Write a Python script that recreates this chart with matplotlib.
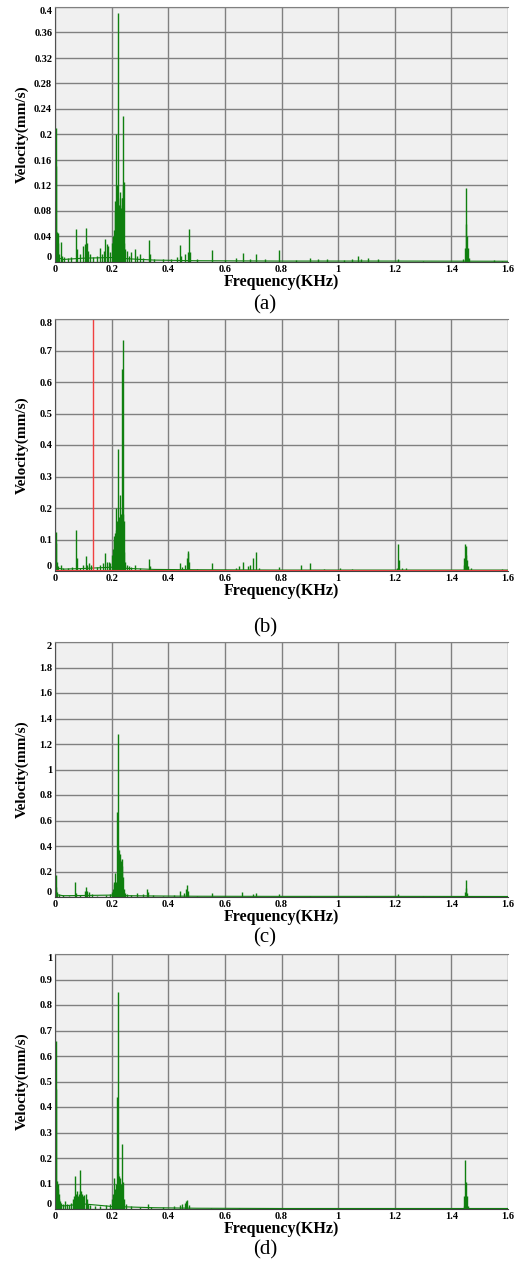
import matplotlib
matplotlib.use("Agg")
import matplotlib.pyplot as plt
import numpy as np

# ---- data ----
freq_ticks = [0, 0.2, 0.4, 0.6, 0.8, 1, 1.2, 1.4, 1.6]

# panel (a)
f_a = [0.003, 0.005, 0.007, 0.009, 0.012, 0.015, 0.020, 0.024, 0.032, 0.045, 0.058, 0.074, 0.077,
       0.090, 0.100, 0.106, 0.110, 0.113, 0.118, 0.125, 0.135, 0.150, 0.159, 0.165, 0.172, 0.178,
       0.183, 0.188, 0.195, 0.200, 0.204, 0.206, 0.209, 0.211, 0.213, 0.215, 0.217, 0.219, 0.221,
       0.223, 0.225, 0.227, 0.229, 0.231, 0.233, 0.235, 0.237, 0.239, 0.241, 0.243, 0.245, 0.248,
       0.255, 0.262, 0.270, 0.283, 0.290, 0.300, 0.310, 0.333, 0.336, 0.350, 0.380, 0.410, 0.430,
       0.442, 0.446, 0.460, 0.468, 0.473, 0.476, 0.500, 0.554, 0.600, 0.640, 0.663, 0.690, 0.710,
       0.740, 0.792, 0.850, 0.900, 0.930, 0.960, 1.020, 1.050, 1.070, 1.080, 1.104, 1.142, 1.213,
       1.300, 1.440, 1.448, 1.450, 1.452, 1.454, 1.457, 1.462, 1.550, 1.580]
v_a = [0.21, 0.15, 0.047, 0.045, 0.03, 0.012, 0.031, 0.010, 0.008, 0.006, 0.008, 0.051, 0.02,
       0.012, 0.025, 0.028, 0.053, 0.03, 0.018, 0.012, 0.008, 0.01, 0.022, 0.012, 0.018, 0.036,
       0.028, 0.025, 0.015, 0.03, 0.04, 0.03, 0.05, 0.095, 0.08, 0.2, 0.09, 0.12, 0.10,
       0.39, 0.09, 0.085, 0.11, 0.09, 0.085, 0.10, 0.10, 0.12, 0.229, 0.125, 0.03, 0.02,
       0.018, 0.01, 0.015, 0.02, 0.01, 0.012, 0.006, 0.035, 0.012, 0.005, 0.004, 0.004, 0.008,
       0.027, 0.01, 0.012, 0.015, 0.051, 0.015, 0.004, 0.019, 0.003, 0.006, 0.014, 0.005, 0.012,
       0.004, 0.019, 0.003, 0.007, 0.004, 0.005, 0.003, 0.005, 0.01, 0.004, 0.006, 0.004, 0.004,
       0.002, 0.004, 0.022, 0.059, 0.116, 0.04, 0.022, 0.006, 0.003, 0.002]
floor_f_a = [0, 0.03, 0.1, 0.2, 0.26, 0.35, 0.5, 0.8, 1.2, 1.6]
floor_v_a = [0.008, 0.004, 0.006, 0.007, 0.005, 0.003, 0.002, 0.0015, 0.0015, 0.0012]

# panel (b)
f_b = [0.003, 0.005, 0.007, 0.012, 0.020, 0.030, 0.045, 0.060, 0.074, 0.077, 0.090, 0.100, 0.109,
       0.114, 0.120, 0.126, 0.150, 0.160, 0.170, 0.178, 0.183, 0.190, 0.196, 0.202, 0.205, 0.207,
       0.209, 0.211, 0.213, 0.215, 0.217, 0.219, 0.221, 0.223, 0.225, 0.227, 0.229, 0.231, 0.233,
       0.235, 0.237, 0.239, 0.241, 0.243, 0.245, 0.248, 0.255, 0.262, 0.270, 0.283, 0.300, 0.333,
       0.336, 0.380, 0.420, 0.442, 0.448, 0.460, 0.465, 0.468, 0.471, 0.474, 0.500, 0.554, 0.600,
       0.640, 0.650, 0.663, 0.680, 0.690, 0.700, 0.709, 0.720, 0.790, 0.868, 0.900, 0.950, 1.007,
       1.050, 1.100, 1.150, 1.207, 1.213, 1.216, 1.225, 1.240, 1.300, 1.400, 1.443, 1.446, 1.449,
       1.451, 1.453, 1.456, 1.460, 1.470, 1.550, 1.580]
v_b = [0.125, 0.09, 0.03, 0.015, 0.02, 0.008, 0.01, 0.012, 0.13, 0.04, 0.01, 0.02, 0.047,
       0.02, 0.025, 0.018, 0.012, 0.02, 0.025, 0.057, 0.03, 0.03, 0.025, 0.05, 0.07, 0.10,
       0.11, 0.09, 0.12, 0.13, 0.20, 0.16, 0.14, 0.387, 0.15, 0.17, 0.24, 0.16, 0.18,
       0.17, 0.64, 0.732, 0.18, 0.16, 0.06, 0.03, 0.02, 0.015, 0.012, 0.02, 0.01, 0.038,
       0.015, 0.005, 0.005, 0.025, 0.012, 0.02, 0.04, 0.062, 0.057, 0.03, 0.006, 0.025, 0.005,
       0.008, 0.015, 0.027, 0.015, 0.02, 0.042, 0.06, 0.008, 0.013, 0.02, 0.025, 0.005, 0.01,
       0.005, 0.004, 0.004, 0.01, 0.087, 0.035, 0.01, 0.008, 0.004, 0.004, 0.02, 0.04, 0.087,
       0.08, 0.05, 0.035, 0.015, 0.008, 0.004, 0.006]
floor_f_b = [0, 0.03, 0.1, 0.2, 0.26, 0.35, 0.5, 0.8, 1.2, 1.6]
floor_v_b = [0.01, 0.006, 0.008, 0.012, 0.008, 0.005, 0.004, 0.003, 0.003, 0.003]
marker_f_b = 0.134      # red cursor line
marker_v_b = 0.003      # red reference level

# panel (c)
f_c = [0.003, 0.005, 0.008, 0.015, 0.030, 0.050, 0.071, 0.074, 0.090, 0.105, 0.110, 0.114, 0.120,
       0.130, 0.150, 0.180, 0.195, 0.200, 0.204, 0.207, 0.210, 0.213, 0.215, 0.218, 0.221, 0.223,
       0.225, 0.227, 0.229, 0.231, 0.233, 0.235, 0.237, 0.239, 0.242, 0.246, 0.255, 0.270, 0.290,
       0.310, 0.324, 0.330, 0.345, 0.380, 0.420, 0.443, 0.455, 0.463, 0.467, 0.470, 0.500, 0.554,
       0.600, 0.660, 0.700, 0.710, 0.790, 0.900, 1.000, 1.100, 1.200, 1.213, 1.300, 1.447, 1.450,
       1.452, 1.456, 1.500]
v_c = [0.174, 0.08, 0.04, 0.025, 0.015, 0.01, 0.12, 0.03, 0.015, 0.05, 0.08, 0.05, 0.04,
       0.02, 0.01, 0.015, 0.02, 0.04, 0.06, 0.12, 0.10, 0.19, 0.12, 0.67, 1.28, 0.375,
       0.33, 0.37, 0.30, 0.34, 0.28, 0.30, 0.24, 0.16, 0.06, 0.03, 0.02, 0.015, 0.03,
       0.02, 0.06, 0.04, 0.015, 0.01, 0.015, 0.045, 0.03, 0.06, 0.096, 0.05, 0.01, 0.035,
       0.008, 0.04, 0.02, 0.035, 0.02, 0.01, 0.008, 0.008, 0.01, 0.025, 0.005, 0.04, 0.13,
       0.07, 0.03, 0.005]
floor_f_c = [0, 0.03, 0.1, 0.2, 0.26, 0.35, 0.5, 0.8, 1.2, 1.6]
floor_v_c = [0.02, 0.01, 0.012, 0.015, 0.01, 0.008, 0.006, 0.005, 0.005, 0.004]

# panel (d)
f_d = [0.003, 0.005, 0.007, 0.009, 0.011, 0.013, 0.015, 0.018, 0.022, 0.028, 0.035, 0.042, 0.050,
       0.058, 0.063, 0.067, 0.070, 0.073, 0.076, 0.080, 0.084, 0.087, 0.090, 0.093, 0.096, 0.100,
       0.104, 0.108, 0.112, 0.116, 0.125, 0.140, 0.160, 0.180, 0.195, 0.200, 0.205, 0.209, 0.212,
       0.215, 0.218, 0.221, 0.223, 0.226, 0.229, 0.232, 0.235, 0.238, 0.241, 0.244, 0.250, 0.270,
       0.300, 0.330, 0.340, 0.380, 0.420, 0.440, 0.450, 0.458, 0.463, 0.467, 0.472, 0.550, 0.650,
       0.800, 0.880, 1.000, 1.100, 1.205, 1.443, 1.446, 1.449, 1.451, 1.454, 1.458, 1.530]
v_d = [0.66, 0.47, 0.11, 0.10, 0.08, 0.06, 0.04, 0.03, 0.025, 0.02, 0.03, 0.02, 0.015,
       0.025, 0.04, 0.05, 0.13, 0.06, 0.07, 0.05, 0.06, 0.07, 0.152, 0.07, 0.06, 0.05,
       0.055, 0.06, 0.04, 0.02, 0.015, 0.01, 0.01, 0.015, 0.02, 0.04, 0.06, 0.12, 0.08,
       0.10, 0.44, 0.85, 0.14, 0.13, 0.12, 0.10, 0.08, 0.256, 0.105, 0.04, 0.02, 0.01,
       0.008, 0.018, 0.008, 0.006, 0.01, 0.015, 0.02, 0.025, 0.03, 0.034, 0.015, 0.003, 0.003,
       0.003, 0.004, 0.003, 0.004, 0.005, 0.01, 0.05, 0.193, 0.106, 0.05, 0.01, 0.003]
floor_f_d = [0, 0.03, 0.1, 0.2, 0.26, 0.35, 0.5, 0.8, 1.2, 1.6]
floor_v_d = [0.02, 0.012, 0.02, 0.01, 0.008, 0.005, 0.003, 0.002, 0.002, 0.002]

panels = [
    ("(a)", f_a, v_a, floor_f_a, floor_v_a, np.arange(0, 0.41, 0.04), 0.4),
    ("(b)", f_b, v_b, floor_f_b, floor_v_b, np.arange(0, 0.81, 0.1), 0.8),
    ("(c)", f_c, v_c, floor_f_c, floor_v_c, np.arange(0, 2.01, 0.2), 2.0),
    ("(d)", f_d, v_d, floor_f_d, floor_v_d, np.arange(0, 1.01, 0.1), 1.0),
]
# pixel layout of each panel: (top, bottom, caption centre)
boxes = [(7, 262, 305), (319, 571, 628), (642, 897, 938), (954, 1209, 1250)]

W, H = 521, 1263
fig = plt.figure(figsize=(W / 100, H / 100), dpi=100)
serif = ["Liberation Serif", "DejaVu Serif"]
green = "#0f7f0f"
gridc = "#808080"
left, right = 55, 508

for (cap, f, v, ff, fv, yt, ymax), (top, bot, capy) in zip(panels, boxes):
    ax = fig.add_axes([left / W, 1 - bot / H, (right - left) / W, (bot - top) / H])
    ax.set_facecolor("#f0f0f0")
    ax.set_axisbelow(True)
    ax.grid(True, color=gridc, lw=1.0)
    ax.plot(ff, fv, color=green, lw=0.8)
    ax.vlines(f, 0, v, color=green, lw=1.0)
    if cap == "(b)":
        ax.axvline(marker_f_b, color="#f04040", lw=1.0)
        ax.axhline(marker_v_b, color="#f04040", lw=0.8)
    ax.set_xlim(0, 1.6)
    ax.set_ylim(0, ymax)
    ax.set_xticks(freq_ticks)
    ax.set_xticklabels(["%g" % t for t in freq_ticks], family=serif, fontweight="bold", fontsize=7.5)
    ylabs = ["%g" % round(t, 2) for t in yt]
    ax.set_yticks(yt)
    ax.set_yticklabels(ylabs, family=serif, fontweight="bold", fontsize=7.5)
    tl = ax.get_yticklabels()
    tl[0].set_va("bottom")
    tl[-1].set_va("top")
    ax.tick_params(length=0, pad=2)
    ax.tick_params(axis="x", pad=2)
    ax.spines["right"].set_visible(False)
    ax.spines["top"].set_color(gridc)
    ax.spines["left"].set_color("#505050")
    ax.spines["bottom"].set_color("#404040")
    ax.set_ylabel("Velocity(mm/s)", family=serif, fontweight="bold", fontsize=11)
    ax.yaxis.set_label_coords(-26 / (right - left), 0.5)
    ax.set_xlabel("Frequency(KHz)", family=serif, fontweight="bold", fontsize=11.5, va="center")
    ax.xaxis.set_label_coords(0.5, -20 / (bot - top))
    fig.text(265 / W, 1 - capy / H, cap, family=serif, fontsize=15, ha="center", va="center")

fig.savefig("out.png", dpi=100, facecolor="white")
